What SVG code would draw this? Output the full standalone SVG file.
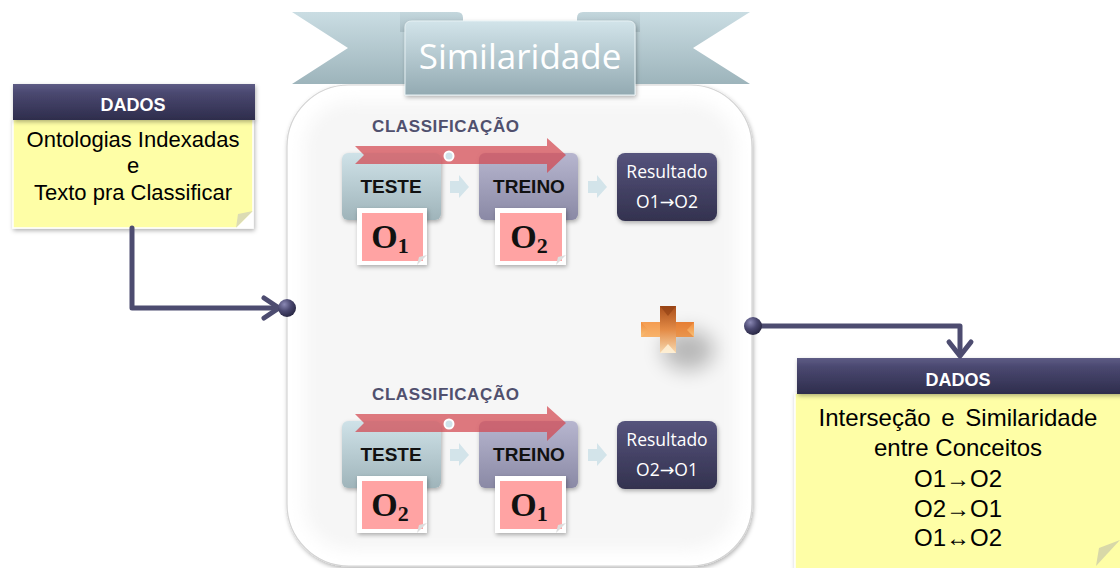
<svg xmlns="http://www.w3.org/2000/svg" width="1120" height="568" viewBox="0 0 1120 568">
<defs>
<style>
.hdr{font-family:"Liberation Sans",Arial,sans-serif;font-weight:bold;font-size:18px;fill:#fff;text-anchor:middle}
.body{font-family:"Liberation Sans",Arial,sans-serif;fill:#000;text-anchor:middle}
.cls{font-family:"Liberation Sans",Arial,sans-serif;font-weight:bold;font-size:17px;fill:#50506e;letter-spacing:0.6px}
.step{font-family:"Liberation Sans",Arial,sans-serif;font-weight:bold;font-size:19px;fill:#111;text-anchor:middle}
.res{font-family:"Open Sans","DejaVu Sans",sans-serif;font-size:17.5px;fill:#fff;text-anchor:middle}
.ont{font-family:"Liberation Serif","Times New Roman",serif;font-weight:bold;font-size:34px;fill:#111;text-anchor:middle}
.con{fill:none;stroke:#4d4c70;stroke-width:5;stroke-linecap:round;stroke-linejoin:round}
.chev{fill:#d3e4ea}
</style>
<linearGradient id="gHdr" x1="0" y1="0" x2="0" y2="1"><stop offset="0" stop-color="#5e5c85"/><stop offset="0.25" stop-color="#4a4870"/><stop offset="1" stop-color="#2e2d4c"/></linearGradient>
<linearGradient id="gBan" x1="0" y1="0" x2="0" y2="1"><stop offset="0" stop-color="#d2e4ea"/><stop offset="1" stop-color="#93aab2"/></linearGradient>
<linearGradient id="gTail" x1="0" y1="0" x2="0" y2="1"><stop offset="0" stop-color="#cadde3"/><stop offset="1" stop-color="#9db4bb"/></linearGradient>
<linearGradient id="gFold" x1="0" y1="0" x2="0" y2="1"><stop offset="0" stop-color="#c4d7dd"/><stop offset="1" stop-color="#a9bec5"/></linearGradient>
<linearGradient id="gTeste" x1="0" y1="0" x2="0" y2="1"><stop offset="0" stop-color="#cfe2e8"/><stop offset="1" stop-color="#9fb4ba"/></linearGradient>
<linearGradient id="gTreino" x1="0" y1="0" x2="0" y2="1"><stop offset="0" stop-color="#b7b6cf"/><stop offset="1" stop-color="#8a89a5"/></linearGradient>
<linearGradient id="gRes" x1="0" y1="0" x2="0" y2="1"><stop offset="0" stop-color="#55537c"/><stop offset="1" stop-color="#33324f"/></linearGradient>
<linearGradient id="gPlusV" x1="0" y1="0" x2="0" y2="1"><stop offset="0" stop-color="#a94f1c"/><stop offset="0.5" stop-color="#e38a45"/><stop offset="1" stop-color="#f7d9b0"/></linearGradient>
<linearGradient id="gPlusH" x1="0" y1="0" x2="0" y2="1"><stop offset="0" stop-color="#f08a3a"/><stop offset="1" stop-color="#f8c27a"/></linearGradient>
<radialGradient id="gDot" cx="0.35" cy="0.3" r="0.75"><stop offset="0" stop-color="#8a88b4"/><stop offset="0.5" stop-color="#4a4870"/><stop offset="1" stop-color="#262540"/></radialGradient>
<filter id="shadow" x="-20%" y="-20%" width="140%" height="150%"><feDropShadow dx="1" dy="2" stdDeviation="2" flood-color="#000" flood-opacity="0.3"/></filter>
<filter id="blur8" x="-50%" y="-50%" width="200%" height="200%"><feGaussianBlur stdDeviation="10"/></filter>
<filter id="blur6" x="-10%" y="-10%" width="120%" height="120%"><feGaussianBlur stdDeviation="8"/></filter>
</defs>
<rect width="1120" height="568" fill="#fff"/>

<g id="panel">
<rect x="287" y="85" width="465" height="481" rx="62" fill="#fff" stroke="#d4d4d4" stroke-width="1.2" filter="url(#shadow)"/>
<rect x="304" y="102" width="432" height="448" rx="46" fill="#f6f6f6" filter="url(#blur6)"/>
</g>

<g id="banner">
<polygon points="292,12 420,12 420,84 292,84 348,48" fill="url(#gTail)"/>
<polygon points="750,12 620,12 620,84 750,84 693,48" fill="url(#gTail)"/>
<path d="M400 12 H457 Q463 12 463 18 V32 H400 Z" fill="url(#gFold)"/>
<path d="M640 12 H583 Q577 12 577 18 V32 H640 Z" fill="url(#gFold)"/>
<path d="M405 27 Q405 21 412 21 H628 Q635 21 635 27 V95 H405 Z" fill="url(#gBan)" stroke="#e6f0f3" stroke-width="1" filter="url(#shadow)"/>
<text x="520" y="69" font-family="'Open Sans','DejaVu Sans',sans-serif" font-size="35" fill="#fff" text-anchor="middle">Similaridade</text>
</g>

<g id="dados-in">
<rect x="13" y="119" width="240" height="109" fill="#fefea6" stroke="#fff" stroke-width="1.5" filter="url(#shadow)"/>
<polygon points="253,211 236,228 238,214" fill="#dcdcb4"/>
<polygon points="253,211 253,228 236,228" fill="#fff"/>
<rect x="13" y="84" width="242" height="36" fill="url(#gHdr)" filter="url(#shadow)"/>
<text class="hdr" x="133" y="111">DADOS</text>
<text class="body" font-size="22" x="133" y="147">Ontologias Indexadas</text>
<text class="body" font-size="22" x="133" y="173">e</text>
<text class="body" font-size="22" x="133" y="200">Texto pra Classificar</text>
</g>

<g id="dados-out">
<rect x="795" y="393" width="340" height="180" fill="#fefea6" stroke="#fff" stroke-width="1.5" filter="url(#shadow)"/>
<polygon points="1120,540 1096,566 1099,548" fill="#d8d8a8"/>
<rect x="797" y="358" width="330" height="36" fill="url(#gHdr)" filter="url(#shadow)"/>
<text class="hdr" x="958" y="386">DADOS</text>
<text class="body" font-size="24" x="958" y="426" word-spacing="4">Interseção e Similaridade</text>
<text class="body" font-size="24" x="958" y="456">entre Conceitos</text>
<text class="body" font-size="24" x="958" y="487">O1→O2</text>
<text class="body" font-size="24" x="958" y="517">O2→O1</text>
<text class="body" font-size="24" x="958" y="546">O1↔O2</text>
</g>

<g id="class-top">
<text class="cls" x="372" y="132">CLASSIFICAÇÃO</text>
<rect x="342" y="153" width="99" height="67" rx="6" fill="url(#gTeste)" filter="url(#shadow)"/>
<rect x="479" y="153" width="99" height="67" rx="6" fill="url(#gTreino)" filter="url(#shadow)"/>
<polygon class="chev" points="450,181 459,181 459,175 469,187 459,198 459,193 450,193"/>
<polygon class="chev" points="588,181 597,181 597,175 607,187 597,198 597,193 588,193"/>
<polygon points="355,146 547,146 547,138 566,155 547,173 547,164 355,164 364,155" fill="#d2474f" opacity="0.72"/>
<circle cx="449" cy="156" r="4.5" fill="#cfe3ea" stroke="#fff" stroke-width="2"/>
<text class="step" x="391" y="193">TESTE</text>
<text class="step" x="529" y="193">TREINO</text>
<rect x="617" y="153" width="100" height="68" rx="8" fill="url(#gRes)" filter="url(#shadow)"/>
<text class="res" x="667" y="178">Resultado</text>
<text class="res" x="667" y="208">O1→O2</text>
</g>
<g id="o1-top">
<rect x="357" y="208" width="70" height="57" fill="#fff" filter="url(#shadow)"/>
<rect x="362" y="213" width="61" height="48" fill="#ffa3a3"/>
<polygon points="427,255 417,265 419,257" fill="#ddd"/>
<text class="ont" x="390" y="248">O<tspan font-size="22" dy="5">1</tspan></text>
</g>
<g id="o2-top">
<rect x="495" y="208" width="71" height="57" fill="#fff" filter="url(#shadow)"/>
<rect x="500" y="213" width="62" height="48" fill="#ffa3a3"/>
<polygon points="566,255 556,265 558,257" fill="#ddd"/>
<text class="ont" x="529" y="248">O<tspan font-size="22" dy="5">2</tspan></text>
</g>

<g id="class-bottom">
<text class="cls" x="372" y="400">CLASSIFICAÇÃO</text>
<rect x="342" y="421" width="99" height="67" rx="6" fill="url(#gTeste)" filter="url(#shadow)"/>
<rect x="479" y="421" width="99" height="67" rx="6" fill="url(#gTreino)" filter="url(#shadow)"/>
<polygon class="chev" points="450,449 459,449 459,443 469,455 459,466 459,461 450,461"/>
<polygon class="chev" points="588,449 597,449 597,443 607,455 597,466 597,461 588,461"/>
<polygon points="355,414 547,414 547,406 566,423 547,441 547,432 355,432 364,423" fill="#d2474f" opacity="0.72"/>
<circle cx="449" cy="424" r="4.5" fill="#cfe3ea" stroke="#fff" stroke-width="2"/>
<text class="step" x="391" y="461">TESTE</text>
<text class="step" x="529" y="461">TREINO</text>
<rect x="617" y="421" width="100" height="68" rx="8" fill="url(#gRes)" filter="url(#shadow)"/>
<text class="res" x="667" y="446">Resultado</text>
<text class="res" x="667" y="476">O2→O1</text>
</g>
<g id="o2-bottom">
<rect x="357" y="476" width="70" height="57" fill="#fff" filter="url(#shadow)"/>
<rect x="362" y="481" width="61" height="48" fill="#ffa3a3"/>
<polygon points="427,523 417,533 419,525" fill="#ddd"/>
<text class="ont" x="390" y="516">O<tspan font-size="22" dy="5">2</tspan></text>
</g>
<g id="o1-bottom">
<rect x="495" y="476" width="71" height="57" fill="#fff" filter="url(#shadow)"/>
<rect x="500" y="481" width="62" height="48" fill="#ffa3a3"/>
<polygon points="566,523 556,533 558,525" fill="#ddd"/>
<text class="ont" x="529" y="516">O<tspan font-size="22" dy="5">1</tspan></text>
</g>

<g id="plus">
<ellipse cx="688" cy="350" rx="26" ry="20" fill="#000" opacity="0.25" filter="url(#blur8)"/>
<polygon points="641,322 694,322 694,337 641,337" fill="url(#gPlusH)"/>
<polygon points="660,306 676,306 676,353 660,353" fill="url(#gPlusV)"/>
<polygon points="641,322 660,322 660,337 641,337 648,330" fill="#f7a860" opacity="0.6"/>
<polygon points="694,322 676,322 676,337 694,337 687,330" fill="#e0772e" opacity="0.6"/>
<polygon points="660,306 676,306 668,316" fill="#8e3e12" opacity="0.6"/>
<polygon points="660,353 676,353 668,344" fill="#fff4dc" opacity="0.8"/>
</g>

<g id="connectors">
<path class="con" d="M132 228 V308 H279"/>
<polyline class="con" points="264,298 279,308 264,318"/>
<circle cx="287" cy="308" r="9" fill="url(#gDot)"/>
<path class="con" d="M753 326 H960 V355"/>
<polyline class="con" points="949,342 960,356 971,342"/>
<circle cx="753" cy="326" r="9" fill="url(#gDot)"/>
</g>
</svg>
